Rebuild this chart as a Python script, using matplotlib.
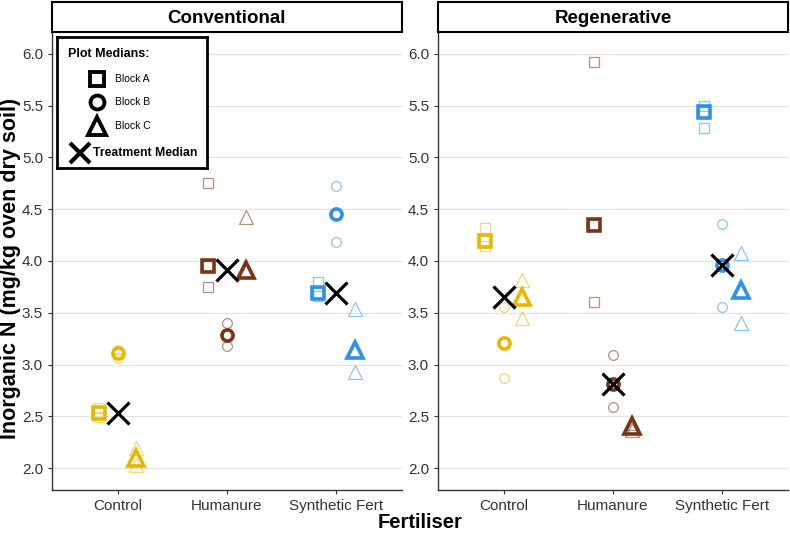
import numpy as np
import matplotlib
matplotlib.use('Agg')
import matplotlib.pyplot as plt

plt.rcParams['font.family'] = ['Liberation Sans', 'DejaVu Sans']

treatments = ['Conventional', 'Regenerative']
fertilisers = ['Control', 'Humanure', 'Synthetic Fert']
block_names = ['Block A', 'Block B', 'Block C']
block_markers = ['s', 'o', '^']
fert_colors = ['#E7B800', '#7A3515', '#2E93E6']

# plot values per fertiliser (3 plots each), Conventional
conv_block_a = [[2.58, 2.53, 2.49], [4.75, 3.95, 3.75], [3.80, 3.69, 3.66]]
conv_block_b = [[3.14, 3.11, 3.06], [3.40, 3.29, 3.18], [4.72, 4.45, 4.18]]
conv_block_c = [[2.20, 2.10, 2.03], [4.42, 3.91, 3.90], [3.54, 3.14, 2.93]]
# Regenerative
reg_block_a = [[4.32, 4.19, 4.14], [5.92, 4.35, 3.60], [5.50, 5.44, 5.28]]
reg_block_b = [[3.56, 3.21, 2.87], [3.09, 2.81, 2.59], [4.36, 3.96, 3.56]]
reg_block_c = [[3.82, 3.65, 3.45], [2.44, 2.41, 2.37], [4.08, 3.72, 3.40]]

panel_data = [[conv_block_a, conv_block_b, conv_block_c],
              [reg_block_a, reg_block_b, reg_block_c]]

fig = plt.figure(figsize=(7.9, 5.34), dpi=100)
W, H = 790, 534
ax_lefts = [52, 438]
ax_w = 350
ax_bottom, ax_top = 490, 32
dodge = [-0.17, 0, 0.17]
small_size = [7, 7, 10]
bold_size = [8, 8, 12]

for p in range(2):
    ax = fig.add_axes([ax_lefts[p] / W, (H - ax_bottom) / H, ax_w / W, (ax_bottom - ax_top) / H])
    blocks = panel_data[p]
    for f in range(3):
        meds = []
        for b in range(3):
            vals = blocks[b][f]
            xpos = f + dodge[b]
            ax.plot([xpos] * len(vals), vals, linestyle='none', marker=block_markers[b],
                    markersize=small_size[b], markerfacecolor='none',
                    markeredgecolor=fert_colors[f], markeredgewidth=0.9, alpha=0.55, zorder=2)
            med = np.median(vals)
            meds.append(med)
            ax.plot([xpos], [med], linestyle='none', marker=block_markers[b],
                    markersize=bold_size[b], markerfacecolor='none',
                    markeredgecolor=fert_colors[f], markeredgewidth=2.6, zorder=3)
        ax.plot([f], [np.median(meds)], linestyle='none', marker='x', markersize=16,
                markeredgecolor='black', markeredgewidth=2.3, zorder=4)

    ax.set_xlim(-0.6, 2.6)
    ax.set_ylim(1.79, 6.21)
    ax.set_xticks(range(3))
    ax.set_xticklabels(fertilisers)
    ax.set_yticks(np.arange(2.0, 6.01, 0.5))
    ax.set_yticklabels([f'{v:.1f}' for v in np.arange(2.0, 6.01, 0.5)])
    ax.yaxis.grid(True, color='#E3E3E3', linewidth=0.9)
    ax.set_axisbelow(True)
    for s in ['top', 'right']:
        ax.spines[s].set_visible(False)
    for s in ['left', 'bottom']:
        ax.spines[s].set_color('#333333')
        ax.spines[s].set_linewidth(1.0)
    ax.tick_params(axis='both', labelsize=11, colors='#333333', length=3, width=0.8,
                   labelcolor='#333333')

    # strip on top
    sax = fig.add_axes([ax_lefts[p] / W, (H - ax_top) / H, ax_w / W, 30 / H])
    sax.set_xticks([])
    sax.set_yticks([])
    for s in sax.spines.values():
        s.set_linewidth(1.5)
        s.set_color('black')
    sax.text(0.5, 0.45, treatments[p], ha='center', va='center', fontsize=13.5,
             fontweight='bold', transform=sax.transAxes)

# legend box, drawn by hand like the ggplot one
lax = fig.add_axes([57 / W, (H - 168) / H, 150 / W, 131 / H])
lax.set_xlim(0, 150)
lax.set_ylim(131, 0)
lax.set_xticks([])
lax.set_yticks([])
for s in lax.spines.values():
    s.set_linewidth(2)
    s.set_color('black')
lax.text(11, 17, 'Plot Medians:', ha='left', va='center', fontsize=9, fontweight='bold')
leg_rows = [42, 65, 89]
leg_msize = [10, 10, 13]
for b in range(3):
    lax.plot([40], [leg_rows[b]], linestyle='none', marker=block_markers[b],
             markersize=leg_msize[b], markerfacecolor='none', markeredgecolor='black',
             markeredgewidth=2.8)
    lax.text(58, leg_rows[b], block_names[b], ha='left', va='center', fontsize=7.5)
lax.plot([23], [116], linestyle='none', marker='x', markersize=14,
         markeredgecolor='black', markeredgewidth=3)
lax.text(36, 116, 'Treatment Median', ha='left', va='center', fontsize=8.8, fontweight='bold')

fig.text(11 / W, (H - 268) / H, 'Inorganic N (mg/kg oven dry soil)', rotation=90,
         ha='center', va='center', fontsize=15.5, fontweight='bold')
fig.text(420 / W, (H - 522) / H, 'Fertiliser', ha='center', va='center',
         fontsize=14.5, fontweight='bold')

fig.savefig('out.png', dpi=100)
